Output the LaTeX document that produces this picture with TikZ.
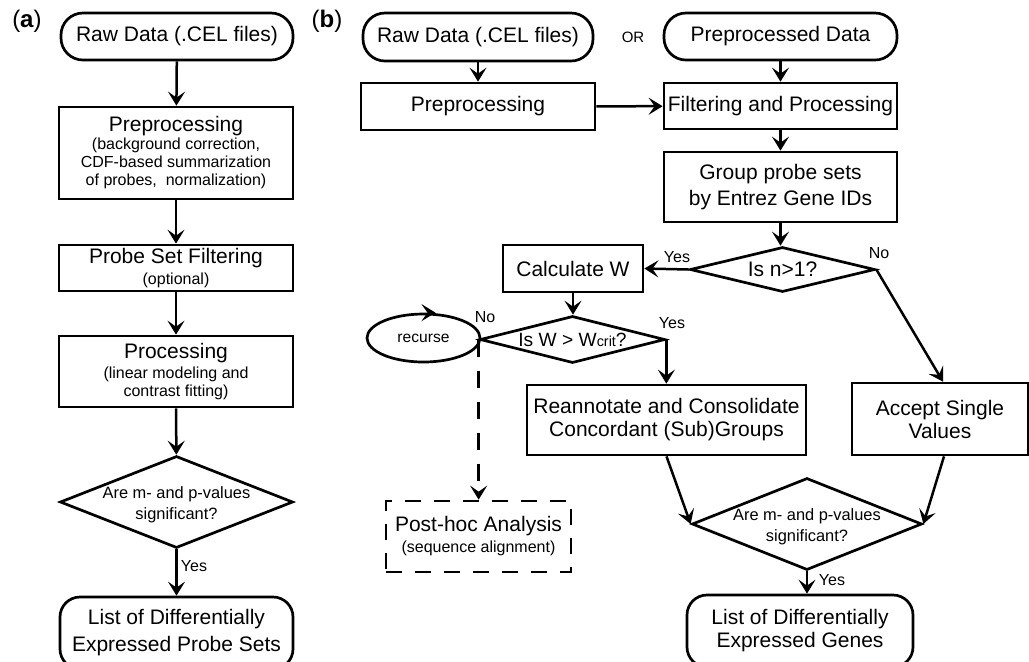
\documentclass[tikz,border=0pt]{standalone}
\usepackage{fontspec}
\setmainfont{Liberation Sans}
\usetikzlibrary{positioning, shapes.geometric, shapes.misc, arrows.meta}
\newcommand{\mainsize}{\fontsize{10.5}{12.6}\selectfont}
\newcommand{\notesize}{\fontsize{8}{9}\selectfont}
\newcommand{\ttl}[1]{{\fontsize{10.5}{9}\selectfont #1}}
\tikzset{
	flowline/.style={line width=1.25pt},
	arr/.style={flowline, -{Stealth[length=7pt,width=8.5pt,inset=3pt]}}
}
\tikzset{
	termbox/.style={draw, line width=1.35pt, rectangle, rounded corners=11pt, align=center, font=\mainsize, inner sep=0pt},
	procbox/.style={draw, line width=1.35pt, rectangle, align=center, font=\mainsize, inner sep=0pt},
	notebox/.style={procbox, font=\notesize},
	decbox/.style={draw, line width=1.35pt, diamond, inner sep=0pt},
	dectext/.style={align=center, font=\fontsize{8.2}{10.3}\selectfont},
	yestext/.style={font=\fontsize{8}{9.6}\selectfont}
}

\begin{document}
\begin{tikzpicture}[x=0.5pt, y=-0.5pt]
      \useasboundingbox (0,0) rectangle (1029,661);
      \clip (0,0) rectangle (1029,661);
      % panel labels
      \node[font=\fontsize{12}{14}\selectfont] (lblA) at (27,21) {(\textbf{a})};
      \node[font=\fontsize{12}{14}\selectfont] (lblB) at (327,21) {(\textbf{b})};
      % (a) column
      \node[termbox, minimum width=116pt, minimum height=23.5pt] (rawA) at (177,36.5) {Raw Data (.CEL files)};
      \node[notebox, minimum width=117pt, minimum height=46pt] (preA) at (176,153)
        {\ttl{Preprocessing}\\(background correction,\\CDF-based summarization\\of probes,~~normalization)};
      \node[notebox, minimum width=117pt, minimum height=23pt] (filtA) at (176,268)
        {\ttl{Probe Set Filtering}\\[1.5pt](optional)};
      \node[notebox, minimum width=117pt, minimum height=35.5pt] (procA) at (176,371.5)
        {\ttl{Processing}\\[1pt](linear modeling and\\contrast fitting)};
      \node[decbox, minimum width=116.5pt, minimum height=46pt] (decA) at (176.5,502) {};
      \node[dectext] (decAt) at ([yshift=-1.5pt]decA.center) {Are m- and p-values\\significant?};
      \node[termbox, rounded corners=10pt, minimum width=116.5pt, minimum height=36pt, font=\fontsize{10.5}{13.5}\selectfont] (listA) at (176.5,633)
        {List of Differentially\\Expressed Probe Sets};
      \draw[arr] (rawA) -- (preA);
      \draw[arr] (preA) -- (filtA);
      \draw[arr] (filtA) -- (procA);
      \draw[arr] (procA) -- (decA);
      \draw[arr] (decA) -- (listA);
      \node[yestext] (yesA) at (194,566) {Yes};
      % (b) top row
      \node[termbox, minimum width=115pt, minimum height=24pt] (rawB) at (478,37) {Raw Data (.CEL files)};
      \node[font=\fontsize{7.5}{9}\selectfont] (orB) at (633,37) {OR};
      \node[termbox, minimum width=116.5pt, minimum height=23.5pt] (ppdB) at (780.5,36.5) {Preprocessed Data};
      \node[procbox, minimum width=117pt, minimum height=23.5pt] (preB) at (478,106.5) {Preprocessing};
      \node[procbox, minimum width=116.5pt, minimum height=23pt] (filtB) at (780.5,106) {Filtering and Processing};
      \node[procbox, minimum width=116.5pt, minimum height=35pt, font=\fontsize{10.5}{13}\selectfont] (grpB) at (780.5,187)
        {Group probe sets\\by Entrez Gene IDs};
      \draw[arr] (rawB) -- (preB);
      \draw[arr] (ppdB) -- (filtB);
      \draw[arr] (preB) -- (filtB);
      \draw[arr] (filtB) -- (grpB);
      % (b) grouping
      \node[decbox, minimum width=92.5pt, minimum height=22.5pt] (decN) at (782.5,269.5) {};
      \node[font=\mainsize] (decNt) at (decN.center) {Is n>1?};
      \node[procbox, minimum width=70pt, minimum height=23.5pt] (calcB) at (573,268.5) {Calculate W};
      \node[decbox, minimum width=92.5pt, minimum height=23.5pt] (decW) at (572.5,339.5) {};
      \node[font=\fontsize{9.6}{11}\selectfont] (decWt) at (decW.center) {Is W > W{\fontsize{7.2}{9}\selectfont crit}?};
      \node[draw, ellipse, line width=1.35pt, minimum width=56.5pt, minimum height=24pt, inner sep=0pt, font=\fontsize{7.8}{9}\selectfont] (recB) at (423.5,338) {recurse};
      \node[notebox, dash pattern=on 8pt off 6.5pt, minimum width=92.5pt, minimum height=35.5pt] (postB) at (478.5,536.5)
        {\ttl{Post-hoc Analysis}\\[1.5pt](sequence alignment)};
      \node[procbox, minimum width=139.5pt, minimum height=35pt, font=\fontsize{10.5}{11.5}\selectfont] (reaB) at (666.5,420)
        {Reannotate and Consolidate\\Concordant (Sub)Groups};
      \node[procbox, minimum width=88pt, minimum height=36pt, font=\fontsize{10.5}{11.5}\selectfont] (accB) at (940,419)
        {Accept Single\\Values};
      \node[decbox, minimum width=115pt, minimum height=46pt] (decB) at (807,524) {};
      \node[dectext] (decBt) at ([yshift=-1.5pt]decB.center) {Are m- and p-values\\significant?};
      \node[termbox, rounded corners=10pt, minimum width=113pt, minimum height=36pt, font=\fontsize{10.5}{11.5}\selectfont] (listB) at (800,631)
        {List of Differentially\\Expressed Genes};
      % (b) connectors
      \draw[arr] (grpB) -- (grpB |- decN.north);
      \draw[arr] (decN.west) -- (calcB.east);
      \node[yestext] (yesN) at (677,257) {Yes};
      \draw[arr] (decN.east) -- ([xshift=1.5pt]accB.north);
      \node[yestext] (noN) at (879,253) {No};
      \draw[arr] (calcB) -- (calcB |- decW.north);
      \draw[arr] (decW.east) -- (decW.east |- reaB.north);
      \node[yestext] (yesW) at (672,323) {Yes};
      \node[yestext] (noW) at (485,317) {No};
      \draw[arr, dash pattern=on 8.5pt off 7pt] (decW.west) -- (decW.west |- postB.north);
      \draw[arr] ([xshift=2pt]recB.north) -- ([xshift=6pt]recB.north);
      \draw[arr] (reaB.south) -- (decB.west);
      \draw[arr] ([xshift=2pt]accB.south) -- (decB.east);
      \draw[arr] (decB.south) -- (decB.south |- listB.north);
      \node[yestext] (yesB) at (832,580) {Yes};
    \end{tikzpicture}
\end{document}
